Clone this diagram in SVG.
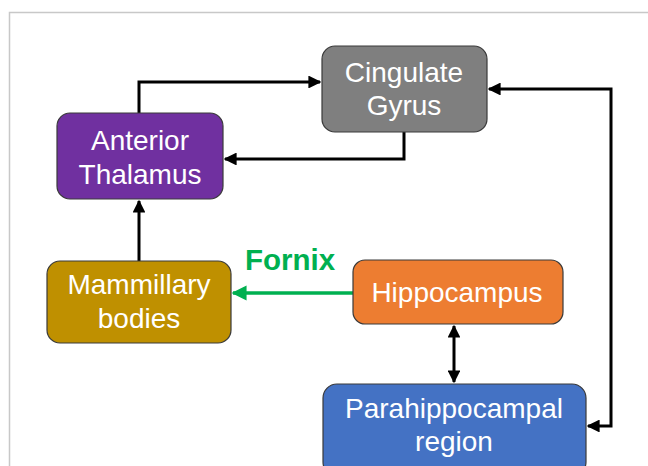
<svg xmlns="http://www.w3.org/2000/svg" width="648" height="466" viewBox="0 0 648 466">
<defs>
<style>
.node rect{stroke:#3a3a3a;stroke-width:1.2}
.node text{font-family:"Liberation Sans",Arial,sans-serif;font-size:28px;fill:#ffffff;text-anchor:middle}
.conn{fill:none;stroke:#000;stroke-width:3}
.fornix{fill:none;stroke:#00B050;stroke-width:3.5}
</style>
<marker id="ah" viewBox="0 0 10 10" refX="9" refY="5" markerWidth="4.3" markerHeight="4.3" orient="auto-start-reverse" markerUnits="strokeWidth">
<path d="M0,0 L10,5 L0,10 z" fill="#000"/>
</marker>
<marker id="ahg" viewBox="0 0 10 10" refX="9" refY="5" markerWidth="4.3" markerHeight="4.3" orient="auto" markerUnits="strokeWidth">
<path d="M0,0 L10,5 L0,10 z" fill="#00B050"/>
</marker>
</defs>
<rect x="0" y="0" width="648" height="466" fill="#fff"/>
<path d="M9.5,466 V12.5 H648" fill="none" stroke="#c8c8c8" stroke-width="1.5"/>
<g id="connectors">
<path class="conn" d="M139,113 V82 H320" marker-end="url(#ah)"/>
<path class="conn" d="M404,132 V159 H225" marker-end="url(#ah)"/>
<path class="conn" d="M588,426 H611 V89 H489" marker-start="url(#ah)" marker-end="url(#ah)"/>
<path class="conn" d="M139,261 V201" marker-end="url(#ah)"/>
<path class="conn" d="M454,326 V382" marker-start="url(#ah)" marker-end="url(#ah)"/>
<path class="fornix" d="M353,293 H233" marker-end="url(#ahg)"/>
<text x="290" y="270" font-family="Liberation Sans,Arial,sans-serif" font-size="29.5" font-weight="bold" fill="#00B050" text-anchor="middle">Fornix</text>
</g>
<g id="cingulate" class="node">
<rect x="322" y="46" width="165" height="86" rx="13" fill="#7F7F7F"/>
<text x="404" y="82">Cingulate</text>
<text x="404" y="115">Gyrus</text>
</g>
<g id="anterior-thalamus" class="node">
<rect x="57" y="113" width="166" height="86" rx="13" fill="#7030A0"/>
<text x="140" y="150">Anterior</text>
<text x="140" y="184">Thalamus</text>
</g>
<g id="mammillary" class="node">
<rect x="47" y="261" width="184" height="82" rx="13" fill="#BF9000"/>
<text x="139" y="294">Mammillary</text>
<text x="139" y="328">bodies</text>
</g>
<g id="hippocampus" class="node">
<rect x="353" y="260" width="210" height="64" rx="12" fill="#ED7D31"/>
<text x="457" y="302">Hippocampus</text>
</g>
<g id="parahippocampal" class="node">
<rect x="323" y="384" width="263" height="92" rx="14" fill="#4472C4"/>
<text x="454" y="418">Parahippocampal</text>
<text x="454" y="451">region</text>
</g>
</svg>
